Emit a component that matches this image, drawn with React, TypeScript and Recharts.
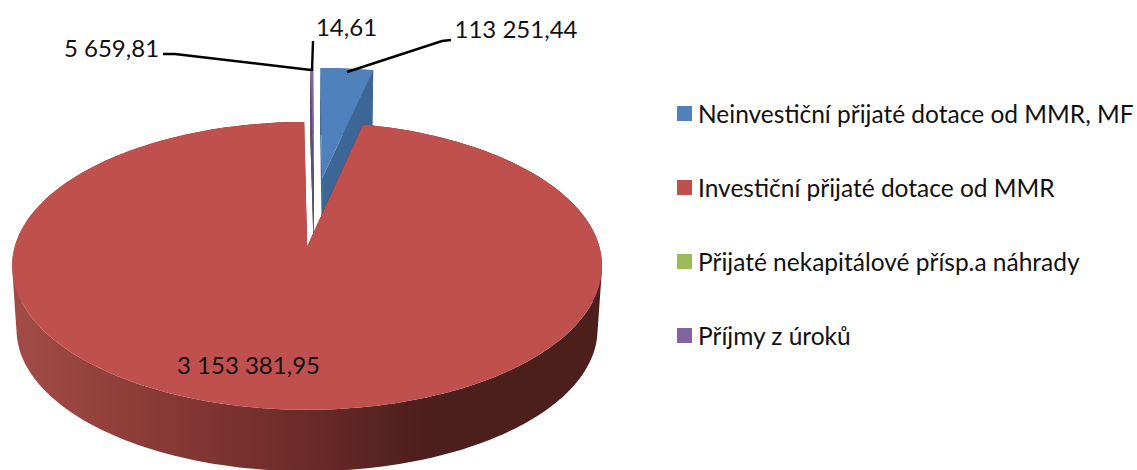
import { Legend, Pie, PieChart } from "recharts";

const categories = [
  "Neinvestiční přijaté dotace od MMR, MF",
  "Investiční přijaté dotace od MMR",
  "Přijaté nekapitálové přísp.a náhrady",
  "Příjmy z úroků",
];
const values = [113251.44, 3153381.95, 14.61, 5659.81];
const colors = ["#4f81bd", "#c0504d", "#9bbb59", "#8064a2"];
const wallColors = ["#3c6696", "#4c1e1c", "#5a5a50", "#5f4a7d"];

// slices are painted in this order so the big red one covers the walls of the others
const paintOrder = [2, 3, 0, 1];
const startAngle = 90.624;

const pieData = paintOrder.map((i) => ({
  name: categories[i],
  value: values[i],
  fill: colors[i],
  wall: wallColors[i],
  index: i,
}));

// perspective used to tip the disc over
const K = 0.132;
const RX = 292.4;
const RY = 141.5;
const X0 = 307;
const Y0 = 247;
const U0 = 0.027;
const V0 = 0.26;
const EXPLODE = 0.26;
const DEPTH = 64;
const BOTTOM_SCALE = 0.985;

type Pt = [number, number];

const rad = (deg: number) => (deg * Math.PI) / 180;

const top = (u: number, v: number): Pt => {
  const d = 1 + K * v;
  return [X0 + (RX * u) / d, Y0 - (RY * v) / d];
};
const bottom = (u: number, v: number): Pt => {
  const [x, y] = top(u, v);
  return [X0 + (x - X0) * BOTTOM_SCALE, Y0 + (y - Y0) * BOTTOM_SCALE + DEPTH];
};
const toPath = (pts: Pt[]) =>
  "M" + pts.map((p) => p[0].toFixed(1) + " " + p[1].toFixed(1)).join("L") + "Z";

// outer wall as one path of quads, all wound the same way so nothing cancels out
const wallPath = (rim: Pt[]) => {
  let d = "";
  for (let i = 0; i < rim.length - 1; i++) {
    const quad = [top(...rim[i]), top(...rim[i + 1]), bottom(...rim[i + 1]), bottom(...rim[i])];
    let area = 0;
    quad.forEach((p, j) => {
      const q = quad[(j + 1) % 4];
      area += p[0] * q[1] - q[0] * p[1];
    });
    d += toPath(area < 0 ? quad.reverse() : quad);
  }
  return d;
};

function Slice3D(props: any) {
  const { startAngle: a0, endAngle: a1, midAngle, payload } = props;
  const cu = U0 + EXPLODE * Math.cos(rad(midAngle));
  const cv = V0 + EXPLODE * Math.sin(rad(midAngle));
  const steps = Math.max(2, Math.ceil(Math.abs(a1 - a0) / 1.5));
  const rim: Pt[] = [];
  for (let i = 0; i <= steps; i++) {
    const a = rad(a0 + ((a1 - a0) * i) / steps);
    rim.push([cu + Math.cos(a), cv + Math.sin(a)]);
  }
  const first = rim[0];
  const last = rim[rim.length - 1];
  const isRed = payload.index === 1;
  const wallFill = isRed ? "url(#redWall)" : payload.wall;
  return (
    <g>
      {isRed && (
        <defs>
          <linearGradient id="redWall" gradientUnits="userSpaceOnUse" x1="12" y1="0" x2="602" y2="0">
            <stop offset="0" stopColor="#a34c47" />
            <stop offset="0.2" stopColor="#8f3d39" />
            <stop offset="0.5" stopColor="#6b2b28" />
            <stop offset="0.7" stopColor="#4c1e1c" />
            <stop offset="1" stopColor="#4c1e1c" />
          </linearGradient>
        </defs>
      )}
      <path
        fill={payload.wall}
        d={toPath([top(cu, cv), top(first[0], first[1]), bottom(first[0], first[1]), bottom(cu, cv)])}
      />
      <path
        fill={payload.wall}
        d={toPath([top(cu, cv), top(last[0], last[1]), bottom(last[0], last[1]), bottom(cu, cv)])}
      />
      <path fill={wallFill} d={wallPath(rim)} />
      <path fill={payload.fill} d={toPath([top(cu, cv), ...rim.map((p) => top(p[0], p[1]))])} />
    </g>
  );
}

const FONT = "Lato, sans-serif";

const formatValue = (v: number) =>
  v
    .toFixed(2)
    .replace(".", ",")
    .replace(/\B(?=(\d{3})+(?!\d))/g, " ");

// label anchors and leader lines, by category index
const labelSpots: Record<number, { x: number; y: number; line?: string }> = {
  0: { x: 516, y: 28, line: "347,72 442,41 451,40" },
  1: { x: 248.5, y: 364 },
  2: { x: 346.5, y: 26, line: "312,71 313,41" },
  3: { x: 111.5, y: 47, line: "163,54 175,54 311,70" },
};

function SliceLabel(props: any) {
  const spot = labelSpots[props.payload.index];
  return (
    <g>
      {spot.line && <polyline points={spot.line} fill="none" stroke="#000" strokeWidth={2.4} />}
      <text
        x={spot.x}
        y={spot.y}
        textAnchor="middle"
        dominantBaseline="central"
        fontFamily={FONT}
        fontSize={24}
        fill="#111"
      >
        {formatValue(props.payload.value)}
      </text>
    </g>
  );
}

function LegendRows() {
  return (
    <div style={{ fontFamily: FONT, fontSize: 24.5, color: "#111" }}>
      {categories.map((name, i) => (
        <div key={name} style={{ height: 74, display: "flex", alignItems: "center", whiteSpace: "nowrap" }}>
          <span style={{ width: 15, height: 15, background: colors[i], marginRight: 6, flex: "none" }} />
          {name}
        </div>
      ))}
    </div>
  );
}

export default function App() {
  return (
    <div style={{ position: "absolute", left: 0, top: 0, width: 1137, height: 470, background: "#fff", overflow: "hidden" }}>
      <PieChart width={1137} height={470} margin={{ top: 0, right: 0, bottom: 0, left: 0 }}>
        <Pie
          data={pieData}
          dataKey="value"
          nameKey="name"
          cx={314}
          cy={211}
          outerRadius={140}
          startAngle={startAngle}
          endAngle={startAngle - 360}
          stroke="none"
          shape={Slice3D}
          label={SliceLabel}
          labelLine={false}
          isAnimationActive={false}
        />
        <Legend
          content={<LegendRows />}
          wrapperStyle={{ position: "absolute", left: 677, top: 76, width: 460, height: 300 }}
        />
      </PieChart>
    </div>
  );
}
